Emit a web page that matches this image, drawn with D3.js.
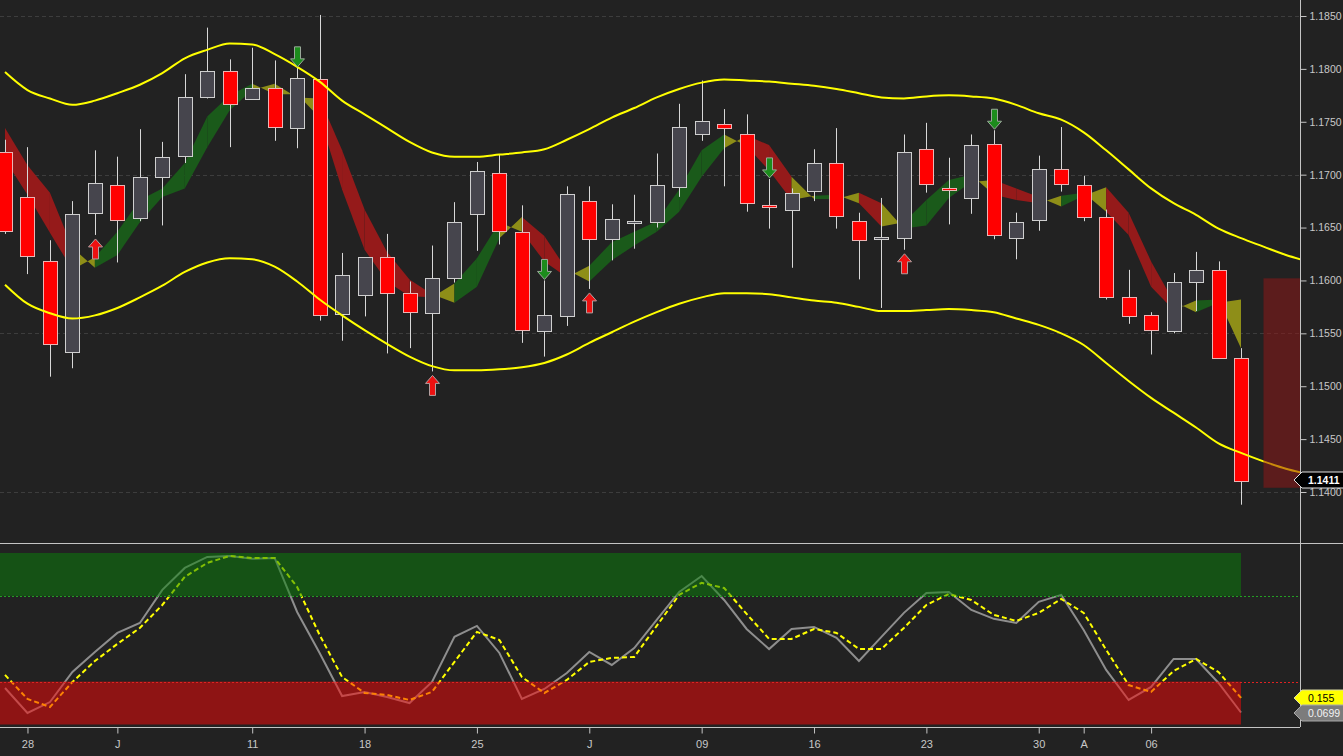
<!DOCTYPE html>
<html>
<head>
<meta charset="utf-8">
<script src="https://d3js.org/d3.v7.min.js"></script>
<style>
html, body { margin: 0; padding: 0; background: #222222; overflow: hidden; }
svg { display: block; font-family: "Liberation Sans", Arial, sans-serif; }
</style>
</head>
<body>
<script>
// daily candles, one per trading day (index 0 = first visible day)
var opens = [1.1721,1.1679,1.1618,1.1533,1.1664,1.1690,1.1659,1.1698,1.1717,1.1773,
  1.1798,1.1772,1.1782,1.1744,1.1790,1.1568,1.1586,1.1622,1.1588,1.1569,
  1.1602,1.1662,1.1702,1.1646,1.1552,1.1567,1.1675,1.1639,1.1654,1.1655,
  1.1688,1.1739,1.1748,1.1738,1.1671,1.1667,1.1685,1.1711,1.1656,1.1639,
  1.1640,1.1724,1.1687,1.1678,1.1729,1.1640,1.1657,1.1705,1.1690,1.1660,
  1.1584,1.1567,1.1553,1.1599,1.1610,1.1527];
var highs = [1.1733,1.1726,1.1638,1.1675,1.1723,1.1717,1.1743,1.1731,1.1795,1.1839,
  1.1809,1.1820,1.1808,1.1801,1.1851,1.1626,1.1622,1.1644,1.1599,1.1633,
  1.1674,1.1712,1.1719,1.1671,1.1600,1.1689,1.1689,1.1672,1.1681,1.1720,
  1.1767,1.1789,1.1762,1.1757,1.1696,1.1687,1.1724,1.1744,1.1664,1.1678,
  1.1738,1.1749,1.1716,1.1738,1.1742,1.1664,1.1718,1.1745,1.1699,1.1667,
  1.1610,1.1570,1.1607,1.1627,1.1618,1.1536];
var lows = [1.1644,1.1606,1.1509,1.1517,1.1643,1.1617,1.1656,1.1652,1.1711,1.1772,
  1.1726,1.1771,1.1732,1.1725,1.1562,1.1543,1.1566,1.1531,1.1536,1.1514,
  1.1598,1.1628,1.1634,1.1541,1.1528,1.1557,1.1592,1.1619,1.1630,1.1650,
  1.1679,1.1732,1.1689,1.1665,1.1649,1.1612,1.1675,1.1649,1.1601,1.1574,
  1.1629,1.1683,1.1653,1.1663,1.1639,1.1620,1.1647,1.1684,1.1656,1.1582,
  1.1559,1.1530,1.1550,1.1571,1.1526,1.1388];
var closes = [1.1646,1.1623,1.1540,1.1663,1.1692,1.1657,1.1698,1.1717,1.1773,1.1798,
  1.1767,1.1782,1.1745,1.1791,1.1567,1.1605,1.1622,1.1588,1.1570,1.1602,
  1.1655,1.1703,1.1647,1.1553,1.1567,1.1682,1.1639,1.1658,1.1656,1.1690,
  1.1745,1.1751,1.1744,1.1673,1.1670,1.1683,1.1711,1.1661,1.1638,1.1641,
  1.1721,1.1691,1.1685,1.1728,1.1643,1.1655,1.1705,1.1691,1.1660,1.1584,
  1.1566,1.1553,1.1599,1.1610,1.1527,1.1411];

// envelope (runs 3 days past the last candle)
var upperBand = [1.1797,1.1780,1.1772,1.1766,1.1770,1.1777,1.1785,1.1796,1.1810,1.1818,
  1.1824,1.1823,1.1814,1.1802,1.1788,1.1770,1.1757,1.1744,1.1731,1.1721,
  1.1717,1.1717,1.1719,1.1721,1.1724,1.1733,1.1743,1.1754,1.1763,1.1773,
  1.1781,1.1787,1.1790,1.1789,1.1788,1.1786,1.1784,1.1781,1.1777,1.1773,
  1.1772,1.1774,1.1775,1.1774,1.1772,1.1766,1.1758,1.1752,1.1740,1.1723,
  1.1705,1.1687,1.1673,1.1662,1.1649,1.1640,1.1632,1.1624,1.1618];
var lowerBand = [1.1596,1.1578,1.1569,1.1564,1.1567,1.1574,1.1584,1.1595,1.1608,1.1617,
  1.1621,1.1620,1.1613,1.1599,1.1582,1.1567,1.1553,1.1540,1.1528,1.1519,
  1.1515,1.1515,1.1516,1.1518,1.1522,1.1530,1.1541,1.1551,1.1561,1.1570,
  1.1578,1.1584,1.1588,1.1588,1.1587,1.1584,1.1581,1.1579,1.1575,1.1571,
  1.1571,1.1572,1.1573,1.1572,1.1570,1.1564,1.1558,1.1550,1.1539,1.1522,
  1.1505,1.1489,1.1475,1.1461,1.1446,1.1437,1.1429,1.1422,1.1417];

// ribbon lines
var slowLine = [1.1744,1.1709,1.1683,1.1631,1.1612,1.1624,1.1655,1.1679,1.1687,1.1726,
  1.1761,1.1780,1.1786,1.1773,1.1772,1.1723,1.1667,1.1627,1.1601,1.1587,
  1.1579,1.1594,1.1640,1.1660,1.1642,1.1610,1.1599,1.1619,1.1633,1.1646,
  1.1665,1.1698,1.1725,1.1737,1.1728,1.1698,1.1677,1.1677,1.1683,1.1673,
  1.1649,1.1652,1.1678,1.1693,1.1695,1.1687,1.1679,1.1670,1.1680,1.1688,
  1.1664,1.1618,1.1580,1.1570,1.1579,1.1582];
var fastLine = [1.1714,1.1681,1.1645,1.1610,1.1622,1.1646,1.1676,1.1687,1.1711,1.1755,
  1.1775,1.1786,1.1776,1.1776,1.1754,1.1686,1.1629,1.1599,1.1585,1.1584,
  1.1597,1.1621,1.1655,1.1646,1.1618,1.1603,1.1614,1.1636,1.1646,1.1656,
  1.1686,1.1723,1.1738,1.1727,1.1704,1.1676,1.1680,1.1681,1.1673,1.1651,
  1.1655,1.1676,1.1695,1.1700,1.1681,1.1676,1.1673,1.1680,1.1683,1.1665,
  1.1643,1.1594,1.1572,1.1581,1.1582,1.1536];

// signal arrows (candle index)
var buySignals = [4, 19, 26, 40];
var sellSignals = [13, 24, 34, 44];

// projected range box
var projHigh = 1.1602, projLow = 1.1404;
var lastPrice = 1.1411;

// oscillator
var stochK = [0.213,0.067,0.131,0.306,0.423,0.534,0.592,0.785,0.913,0.977,
  0.983,0.966,0.971,0.656,0.417,0.166,0.190,0.160,0.125,0.248,
  0.511,0.575,0.417,0.149,0.207,0.300,0.423,0.347,0.446,0.610,
  0.773,0.866,0.726,0.557,0.440,0.557,0.569,0.505,0.370,0.511,
  0.651,0.767,0.773,0.668,0.616,0.592,0.715,0.756,0.551,0.318,
  0.143,0.219,0.382,0.382,0.242,0.0699];
var stochD = [0.289,0.149,0.102,0.248,0.370,0.470,0.563,0.697,0.861,0.942,
  0.983,0.971,0.971,0.802,0.522,0.277,0.184,0.172,0.143,0.190,
  0.365,0.540,0.493,0.277,0.184,0.260,0.365,0.388,0.394,0.575,
  0.756,0.826,0.796,0.645,0.499,0.499,0.557,0.534,0.440,0.440,
  0.563,0.697,0.761,0.726,0.639,0.604,0.651,0.732,0.651,0.435,
  0.230,0.190,0.312,0.382,0.306,0.155];
var overBought = 0.75, overSold = 0.25;

// axes
var priceTicks = [1.140,1.145,1.150,1.155,1.160,1.165,1.170,1.175,1.180,1.185];
var gridTicks = [1.140,1.155,1.170,1.185];
var dateTickIdx = [1, 5, 11, 16, 21, 26, 31, 36, 41, 46, 48, 51];
var dateTickText = ["28","J","11","18","25","J","09","16","23","30","A","06"];

window.onload = function(){
  var W = 1343, H = 756;
  var axisX = 1300;      // right price axis
  var paneSplit = 543;   // separator between panes
  var paneBottom = 727;  // date axis

  var svg = d3.select("body").append("svg")
    .attr("width", W)
    .attr("height", H);
  svg.append("rect").attr("width", W).attr("height", H).attr("fill", "#222222");

  var x = d3.scaleLinear().domain([0, 55]).range([5, 1241]);
  var y = d3.scaleLinear().domain([1.14, 1.185]).range([492, 16]);
  var ys = d3.scaleLinear().domain([0, 1]).range([724.5, 553]);
  var px = function(i){ return Math.round(x(i)) + 0.5; };

  var defs = svg.append("defs");
  defs.append("clipPath").attr("id", "clipPrice")
    .append("rect").attr("x", 0).attr("y", 0).attr("width", axisX).attr("height", paneSplit);
  defs.append("clipPath").attr("id", "clipOsc")
    .append("rect").attr("x", 0).attr("y", paneSplit + 1).attr("width", axisX).attr("height", paneBottom - paneSplit - 1);

  var price = svg.append("g").attr("clip-path", "url(#clipPrice)");
  var osc = svg.append("g").attr("clip-path", "url(#clipOsc)");

  //dashed grid
  price.selectAll(".grid")
    .data(gridTicks)
    .enter()
    .append("line")
    .attr("class", "grid")
    .attr("x1", 0).attr("x2", axisX)
    .attr("y1", function(d){ return Math.round(y(d)) + 0.5; })
    .attr("y2", function(d){ return Math.round(y(d)) + 0.5; })
    .style("stroke", "#3d3d3d")
    .style("stroke-dasharray", "4,3");

  //ribbon between slow and fast line, coloured per day
  var segLine = d3.line();
  price.selectAll(".ribbon")
    .data(d3.range(slowLine.length - 1))
    .enter()
    .append("path")
    .attr("class", "ribbon")
    .attr("d", function(i){
      return segLine([
        [x(i), y(slowLine[i])], [x(i + 1), y(slowLine[i + 1])],
        [x(i + 1), y(fastLine[i + 1])], [x(i), y(fastLine[i])]
      ]) + "Z";
    })
    .style("fill", function(i){
      var a = slowLine[i] - fastLine[i], b = slowLine[i + 1] - fastLine[i + 1];
      if (a > 0 && b > 0) return "#951a1a";
      if (a < 0 && b < 0) return "#1a5a1a";
      return "#8e8e18";
    })
    .style("stroke", "none");

  //candles
  var candles = price.selectAll(".candle")
    .data(d3.range(opens.length))
    .enter()
    .append("g")
    .attr("class", "candle");
  candles.append("line")
    .attr("x1", px).attr("x2", px)
    .attr("y1", function(i){ return y(highs[i]); })
    .attr("y2", function(i){ return y(lows[i]); })
    .style("stroke", "#d8d8d8");
  candles.append("rect")
    .attr("x", function(i){ return px(i) - 7; })
    .attr("width", 14)
    .attr("y", function(i){ return Math.round(y(Math.max(opens[i], closes[i]))) + 0.5; })
    .attr("height", function(i){
      return Math.max(2, Math.round(Math.abs(y(opens[i]) - y(closes[i]))));
    })
    .style("fill", function(i){ return closes[i] >= opens[i] ? "#46454d" : "#ff0000"; })
    .style("stroke", function(i){ return closes[i] >= opens[i] ? "#cfcfcf" : "#eab4b4"; });

  //envelope lines
  var bandLine = d3.line()
    .x(function(d, i){ return x(i); })
    .y(function(d){ return y(d); })
    .curve(d3.curveMonotoneX);
  [upperBand, lowerBand].forEach(function(b){
    price.append("path")
      .datum(b)
      .attr("d", bandLine)
      .style("fill", "none")
      .style("stroke", "#ffff00")
      .style("stroke-width", 2);
  });

  //signal arrows
  function arrowPath(cx, ty, dir){ // dir 1 = up (tip on top), -1 = down
    var p = [[0,0],[7,8],[3,8],[3,20],[-3,20],[-3,8],[-7,8]];
    return d3.line()(p.map(function(q){ return [cx + q[0], ty + dir * q[1]]; })) + "Z";
  }
  price.selectAll(".buy")
    .data(buySignals)
    .enter()
    .append("path")
    .attr("class", "buy")
    .attr("d", function(i){ return arrowPath(px(i), y(lows[i]) + 4, 1); })
    .style("fill", "#ee1111")
    .style("stroke", "#b4a0a0");
  price.selectAll(".sell")
    .data(sellSignals)
    .enter()
    .append("path")
    .attr("class", "sell")
    .attr("d", function(i){ return arrowPath(px(i), y(highs[i]) - 1, -1); })
    .style("fill", "#1c8c1c")
    .style("stroke", "#9aa89a");

  //projected range
  price.append("rect")
    .attr("x", x(56))
    .attr("width", axisX - x(56))
    .attr("y", y(projHigh))
    .attr("height", y(projLow) - y(projHigh))
    .style("fill", "rgba(150,22,22,0.5)");

  //oscillator lines
  var oscLine = d3.line()
    .x(function(d, i){ return x(i); })
    .y(function(d){ return ys(d); });
  osc.append("path").datum(stochK).attr("d", oscLine)
    .style("fill", "none").style("stroke", "#8e8e8e").style("stroke-width", 2);
  osc.append("path").datum(stochD).attr("d", oscLine)
    .style("fill", "none").style("stroke", "#ffff00").style("stroke-width", 2)
    .style("stroke-dasharray", "5,3");

  //overbought / oversold zones on top
  osc.append("rect")
    .attr("x", 0).attr("width", x(55))
    .attr("y", ys(1)).attr("height", ys(overBought) - ys(1))
    .style("fill", "rgba(8,130,8,0.5)");
  osc.append("rect")
    .attr("x", 0).attr("width", x(55))
    .attr("y", ys(overSold)).attr("height", ys(0) - ys(overSold))
    .style("fill", "rgba(250,6,6,0.5)");
  [[overBought, "#23a023"], [overSold, "#e02222"]].forEach(function(l){
    osc.append("line")
      .attr("x1", 0).attr("x2", axisX)
      .attr("y1", Math.round(ys(l[0])) + 0.5).attr("y2", Math.round(ys(l[0])) + 0.5)
      .style("stroke", l[1])
      .style("stroke-dasharray", "2,2");
  });

  //frame lines
  svg.append("line").attr("x1", 0).attr("x2", W).attr("y1", paneSplit + 0.5).attr("y2", paneSplit + 0.5)
    .style("stroke", "#c4c4c4");
  svg.append("line").attr("x1", axisX + 0.5).attr("x2", axisX + 0.5).attr("y1", 0).attr("y2", paneBottom)
    .style("stroke", "#c4c4c4");

  //price axis
  var tagY = Math.round(y(lastPrice));
  var yAxis = d3.axisRight(y)
    .tickValues(priceTicks)
    .tickSize(6)
    .tickPadding(3)
    .tickFormat(d3.format(".4f"));
  var ay = svg.append("g")
    .attr("class", "axis")
    .attr("transform", "translate(" + (axisX + 0.5) + ",0)")
    .call(yAxis);
  ay.select(".domain").remove();
  ay.selectAll("line").style("stroke", "#c4c4c4");
  ay.selectAll("text")
    .style("fill", "#c8c8c8")
    .style("font-size", "10.5px")
    .attr("dy", function(d){
      // nudge a label down when the last-price tag sits on it
      var gap = y(d) - tagY;
      return (gap > -14 && gap < 14) ? (0.32 + (14 - gap) / 10.5 * 0.25) + "em" : "0.32em";
    });

  //date axis
  var xAxis = d3.axisBottom(x)
    .tickValues(dateTickIdx)
    .tickSize(6)
    .tickPadding(7)
    .tickFormat(function(d, i){ return dateTickText[i]; });
  var ax = svg.append("g")
    .attr("class", "axis")
    .attr("transform", "translate(0," + (paneBottom + 0.5) + ")")
    .call(xAxis);
  ax.select(".domain").remove();
  ax.append("line").attr("x1", 0).attr("x2", axisX).style("stroke", "#c4c4c4");
  ax.selectAll(".tick line").style("stroke", "#c4c4c4");
  ax.selectAll("text").style("fill", "#c8c8c8").style("font-size", "11px");

  //value tags on the right
  function tag(yv, fill, stroke, txt, txtFill, bold){
    var yy = Math.round(yv);
    var g = svg.append("g");
    g.append("path")
      .attr("d", d3.line()([[axisX - 6, yy], [axisX + 2, yy - 8], [W + 2, yy - 8], [W + 2, yy + 8], [axisX + 2, yy + 8]]) + "Z")
      .style("fill", fill)
      .style("stroke", stroke);
    g.append("text")
      .attr("x", axisX + 8)
      .attr("y", yy + 4)
      .style("font-size", "10.5px")
      .style("font-weight", bold ? "bold" : "normal")
      .style("fill", txtFill)
      .text(txt);
  }
  tag(y(lastPrice), "#000000", "#e0e0e0", d3.format(".4f")(lastPrice), "#ffffff", true);
  tag(ys(stochD[stochD.length - 1]), "#ffff00", "#d8d8a0", stochD[stochD.length - 1], "#000000", false);
  tag(ys(stochK[stochK.length - 1]), "#7c7c7c", "#a8a8a8", stochK[stochK.length - 1], "#f2f2f2", false);
};
</script>
</body>
</html>
